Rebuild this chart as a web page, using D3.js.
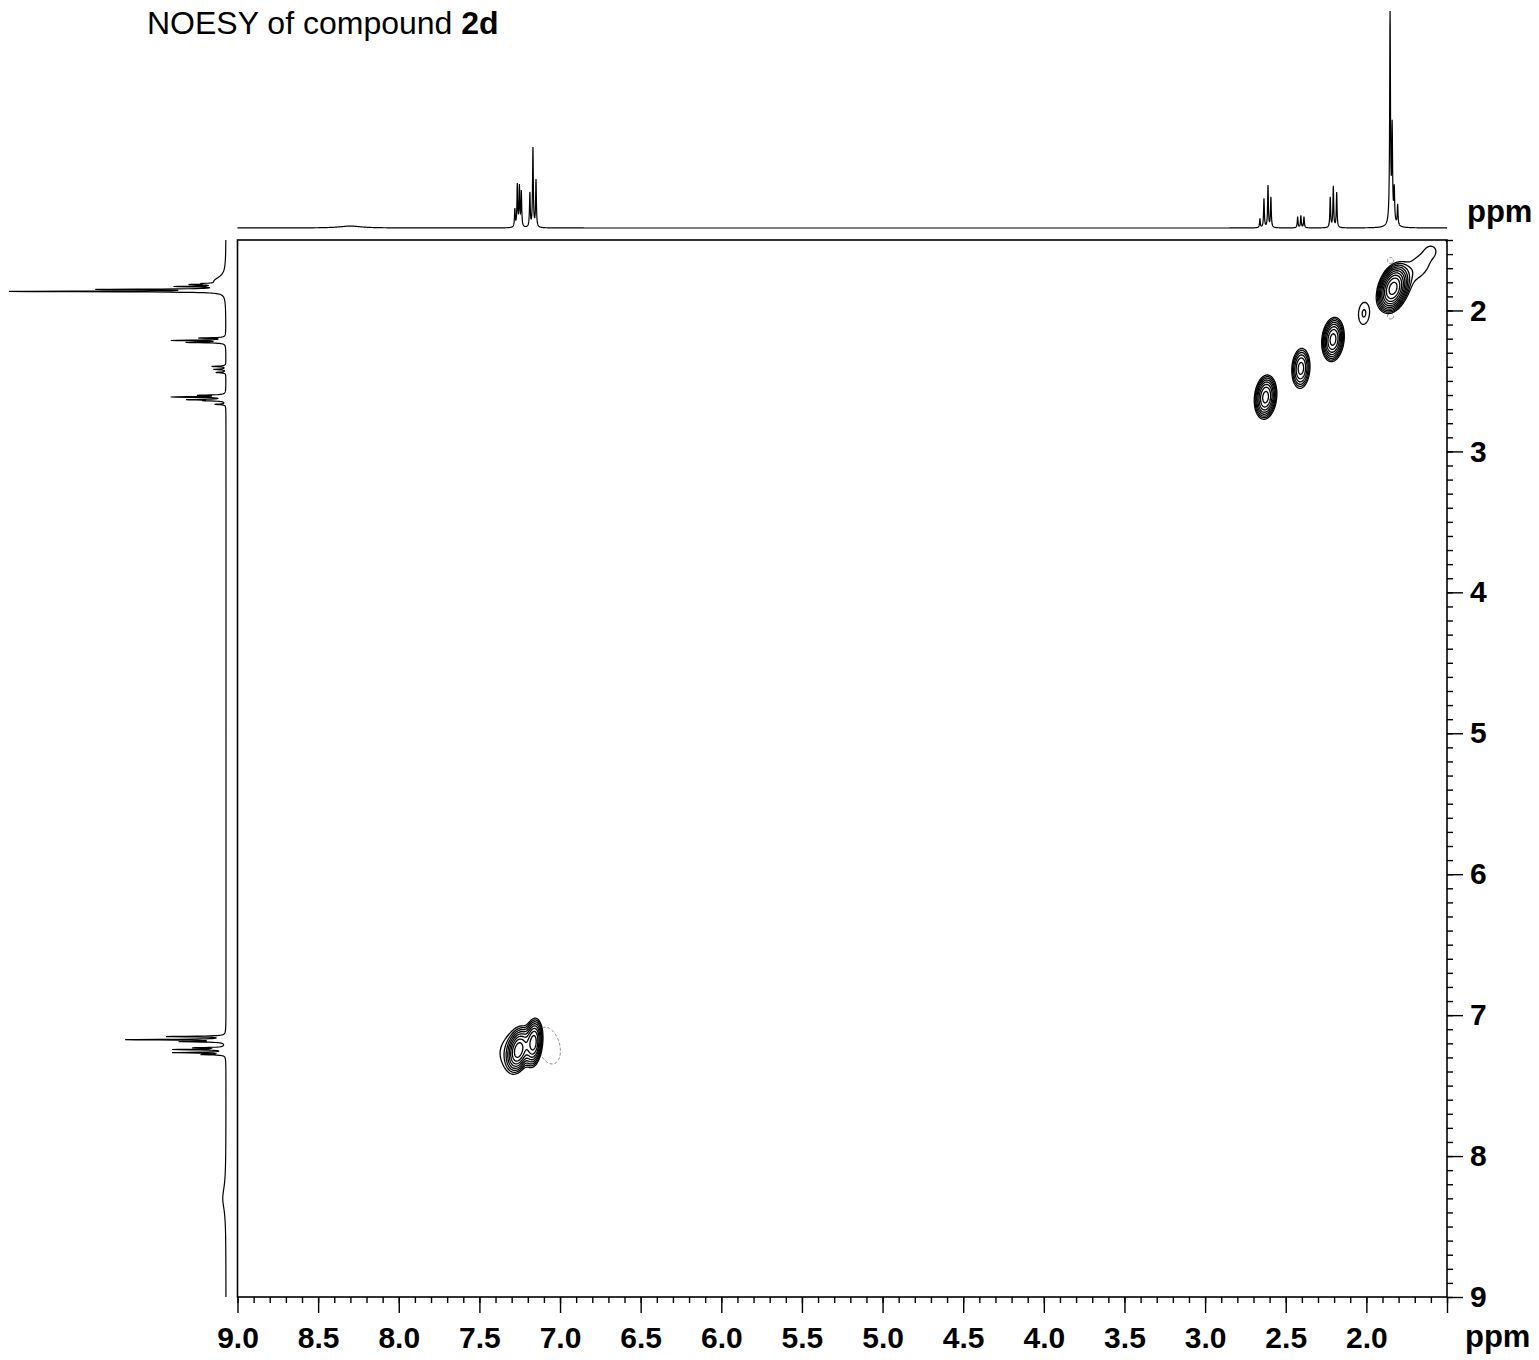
<!DOCTYPE html>
<html>
<head>
<meta charset="utf-8">
<script src="https://cdn.jsdelivr.net/npm/d3@7"></script>
<style>
  body { margin: 0; background: #fff; }
  svg { font-family: 'Liberation Sans', Arial, sans-serif; }
</style>
</head>
<body>
<svg id="chart" width="1539" height="1360"></svg>
<script>
// ppm ranges of the two axes (F2 horizontal, F1 vertical)
var xDomain = [9.0, 1.5]
var yDomain = [1.5, 9.0]

// tick values
var xMajorTicks = [9.0, 8.5, 8.0, 7.5, 7.0, 6.5, 6.0, 5.5, 5.0, 4.5, 4.0, 3.5, 3.0, 2.5, 2.0, 1.5]
var xTickLabels = ['9.0', '8.5', '8.0', '7.5', '7.0', '6.5', '6.0', '5.5', '5.0', '4.5', '4.0', '3.5', '3.0', '2.5', '2.0', '']
var yMajorTicks = [2, 3, 4, 5, 6, 7, 8, 9]
var yTickLabels = ['2', '3', '4', '5', '6', '7', '8', '9']

// 1D projection on top: [ppm, height (% of tallest), half width ppm]
var topPeaks = [
  [8.30, 0.9, 0.08],
  [7.280, 8.3], [7.265, 19.4], [7.252, 18.5], [7.240, 16.2],
  [7.187, 15.7], [7.168, 36.6], [7.149, 21.8],
  [2.660, 4.2], [2.635, 13.4], [2.610, 19.4], [2.592, 13.9],
  [2.426, 5.1], [2.406, 5.6], [2.387, 5.1],
  [2.224, 13.9], [2.205, 19.0], [2.184, 16.2],
  [1.853, 100], [1.840, 42], [1.827, 15], [1.806, 9.5], [1.84, 3, 0.02]
]

// 1D projection on the left: [ppm, height (% of tallest), half width ppm]
var leftPeaks = [
  [1.865, 100], [1.851, 55], [1.830, 20], [1.816, 12], [1.809, 5], [1.79, 5, 0.035],
  [2.196, 12], [2.213, 24.5], [2.227, 17.6],
  [2.397, 6.5], [2.418, 5.6], [2.440, 4.6],
  [2.602, 12], [2.614, 24.5], [2.633, 16.7], [2.640, 8.3], [2.666, 5],
  [7.152, 26.9], [7.174, 45.4], [7.188, 19.9], [7.232, 14], [7.244, 23.6], [7.266, 24.0], [7.280, 10.6],
  [8.30, 1.5, 0.1]
]

// 2D cross peaks: [F2 ppm, F1 ppm, width F2, width F1, intensity, tilt]
var positivePeaks = [
  [2.625, 2.615, 0.033, 0.074, 9.5, 0.15],
  [2.406, 2.411, 0.031, 0.078, 5.2, 0.1],
  [2.207, 2.206, 0.033, 0.074, 9.5, 0.15],
  [2.015, 2.021, 0.041, 0.095, 1.4, 0.1],
  [1.835, 1.844, 0.042, 0.074, 17.3, 0.3],
  [1.675, 1.690, 0.100, 0.130, 1.25, 0.5],
  [1.595, 1.572, 0.035, 0.040, 0.45, 0.0],
  [1.490, 1.490, 0.020, 0.030, 1.2, 0.0],
  [7.257, 7.248, 0.034, 0.072, 9.5, 0.3],
  [7.320, 7.250, 0.090, 0.140, 1.15, 0.2],
  [7.164, 7.195, 0.027, 0.080, 9.5, 0.2]
]
var negativePeaks = [
  [7.070, 7.216, 0.100, 0.180, 1.3, -0.3],
  [1.850, 1.645, 0.031, 0.035, 1.2, 0.0],
  [1.850, 2.040, 0.031, 0.035, 1.2, 0.0]
]
var contourLevels = [1, 1.35, 1.82, 2.46, 3.32, 4.48, 6.05, 8.17, 11.0, 14.9, 20.1, 27.1]

var svg = d3.select('#chart')

var x = d3.scaleLinear().domain(xDomain).range([237.5, 1447])
var y = d3.scaleLinear().domain(yDomain).range([240, 1297])
var topY = d3.scaleLinear().domain([0, 100]).range([228, 12])
var leftX = d3.scaleLinear().domain([0, 100]).range([226, 10])

// title
var title = svg.append('text').attr('x', 147).attr('y', 34).style('font-size', '32px')
title.append('tspan').text('NOESY of compound ')
title.append('tspan').style('font-weight', 'bold').text('2d')

// 1D traces, lorentzian lines
function trace(peaks) {
  var pts = d3.range(1.5, 9.0005, 0.001).concat(peaks.map((p) => p[0])).sort(d3.ascending)
  return pts.map(function (p) {
    var s = 0
    peaks.forEach(function (pk) {
      var w = pk[2] || 0.0028
      var t = (p - pk[0]) / w
      s += pk[1] / (1 + t * t)
    })
    return [p, s]
  })
}

svg.append('path')
  .datum(trace(topPeaks))
  .attr('fill', 'none')
  .attr('stroke', '#000')
  .attr('stroke-width', 1.2)
  .attr('d', d3.line().x((d) => x(d[0])).y((d) => topY(Math.min(d[1], 100.5))))

svg.append('path')
  .datum(trace(leftPeaks))
  .attr('fill', 'none')
  .attr('stroke', '#000')
  .attr('stroke-width', 1.2)
  .attr('d', d3.line().x((d) => leftX(Math.min(d[1], 100.5))).y((d) => y(d[0])))

// 2D contour map
var nx = 1210
var ny = 1057
function gridPpmX(i) { return xDomain[0] + (i / nx) * (xDomain[1] - xDomain[0]) }
function gridPpmY(j) { return yDomain[0] + (j / ny) * (yDomain[1] - yDomain[0]) }
function idxX(p) { return ((p - xDomain[0]) / (xDomain[1] - xDomain[0])) * nx }
function idxY(p) { return ((p - yDomain[0]) / (yDomain[1] - yDomain[0])) * ny }

function buildGrid(peaks) {
  var v = new Float64Array(nx * ny)
  peaks.forEach(function (pk) {
    var cx = pk[0], cy = pk[1], sx = pk[2], sy = pk[3], a = pk[4], r = pk[5]
    var ia = Math.max(0, Math.floor(Math.min(idxX(cx - 6 * sx), idxX(cx + 6 * sx))))
    var ib = Math.min(nx - 1, Math.ceil(Math.max(idxX(cx - 6 * sx), idxX(cx + 6 * sx))))
    var ja = Math.max(0, Math.floor(idxY(cy - 6 * sy)))
    var jb = Math.min(ny - 1, Math.ceil(idxY(cy + 6 * sy)))
    for (var j = ja; j <= jb; j++) {
      var dy = (gridPpmY(j + 0.5) - cy) / sy
      for (var i = ia; i <= ib; i++) {
        var dx = (gridPpmX(i + 0.5) - cx) / sx
        var z = (dx * dx - 2 * r * dx * dy + dy * dy) / (1 - r * r)
        v[j * nx + i] += a * Math.exp(-z / 2)
      }
    }
  })
  return v
}

var toScreen = d3.geoTransform({
  point: function (px, py) {
    this.stream.point(x(gridPpmX(px)), y(gridPpmY(py)))
  },
})
var contourPath = d3.geoPath(toScreen)
var contourGen = d3.contours().size([nx, ny]).thresholds(contourLevels)

svg.append('clipPath').attr('id', 'plotclip')
  .append('rect')
  .attr('x', x(xDomain[0])).attr('y', y(yDomain[0]))
  .attr('width', x(xDomain[1]) - x(xDomain[0]))
  .attr('height', y(yDomain[1]) - y(yDomain[0]))

var plot = svg.append('g').attr('clip-path', 'url(#plotclip)')

plot.append('g')
  .selectAll('path')
  .data(contourGen(buildGrid(negativePeaks)).filter((c) => c.coordinates.length))
  .enter()
  .append('path')
  .attr('d', contourPath)
  .attr('fill', 'none')
  .attr('stroke', '#808080')
  .attr('stroke-width', 1)
  .attr('stroke-dasharray', '3,2')

plot.append('g')
  .selectAll('path')
  .data(contourGen(buildGrid(positivePeaks)).filter((c) => c.coordinates.length))
  .enter()
  .append('path')
  .attr('d', contourPath)
  .attr('fill', 'none')
  .attr('stroke', '#000')
  .attr('stroke-width', 1.3)

// frame
svg.append('rect')
  .attr('x', x(xDomain[0])).attr('y', y(yDomain[0]))
  .attr('width', x(xDomain[1]) - x(xDomain[0]))
  .attr('height', y(yDomain[1]) - y(yDomain[0]))
  .attr('fill', 'none')
  .attr('stroke', '#000')
  .attr('stroke-width', 1.6)

// axes
var xMinor = d3.range(15, 91).map((v) => v / 10)
var yMinor = d3.range(15, 91).map((v) => v / 10)

function styleAxis(g) {
  g.select('.domain').remove()
  g.selectAll('line').attr('stroke', '#000').attr('stroke-width', 1.4)
  g.selectAll('text')
    .attr('fill', '#000')
    .style('font-size', '30px')
    .style('font-weight', 'bold')
    .style('font-family', "'Liberation Sans', Arial, sans-serif")
}

svg.append('g')
  .attr('transform', 'translate(0,' + y(yDomain[1]) + ')')
  .call(d3.axisBottom(x).tickValues(xMinor).tickSize(6).tickFormat(''))
  .call(styleAxis)

svg.append('g')
  .attr('transform', 'translate(0,' + y(yDomain[1]) + ')')
  .call(d3.axisBottom(x).tickValues(xMajorTicks).tickSize(16).tickPadding(14)
    .tickFormat((d, i) => xTickLabels[i]))
  .call(styleAxis)

svg.append('g')
  .attr('transform', 'translate(' + x(xDomain[1]) + ',0)')
  .call(d3.axisRight(y).tickValues(yMinor).tickSize(6).tickFormat(''))
  .call(styleAxis)

svg.append('g')
  .attr('transform', 'translate(' + x(xDomain[1]) + ',0)')
  .call(d3.axisRight(y).tickValues(yMajorTicks).tickSize(16).tickPadding(7)
    .tickFormat((d, i) => yTickLabels[i]))
  .call(styleAxis)

// unit labels
svg.append('text').attr('x', 1465).attr('y', 1347)
  .style('font-size', '31px').style('font-weight', 'bold').text('ppm')
svg.append('text').attr('x', 1467).attr('y', 222)
  .style('font-size', '31px').style('font-weight', 'bold').text('ppm')
</script>
</body>
</html>
